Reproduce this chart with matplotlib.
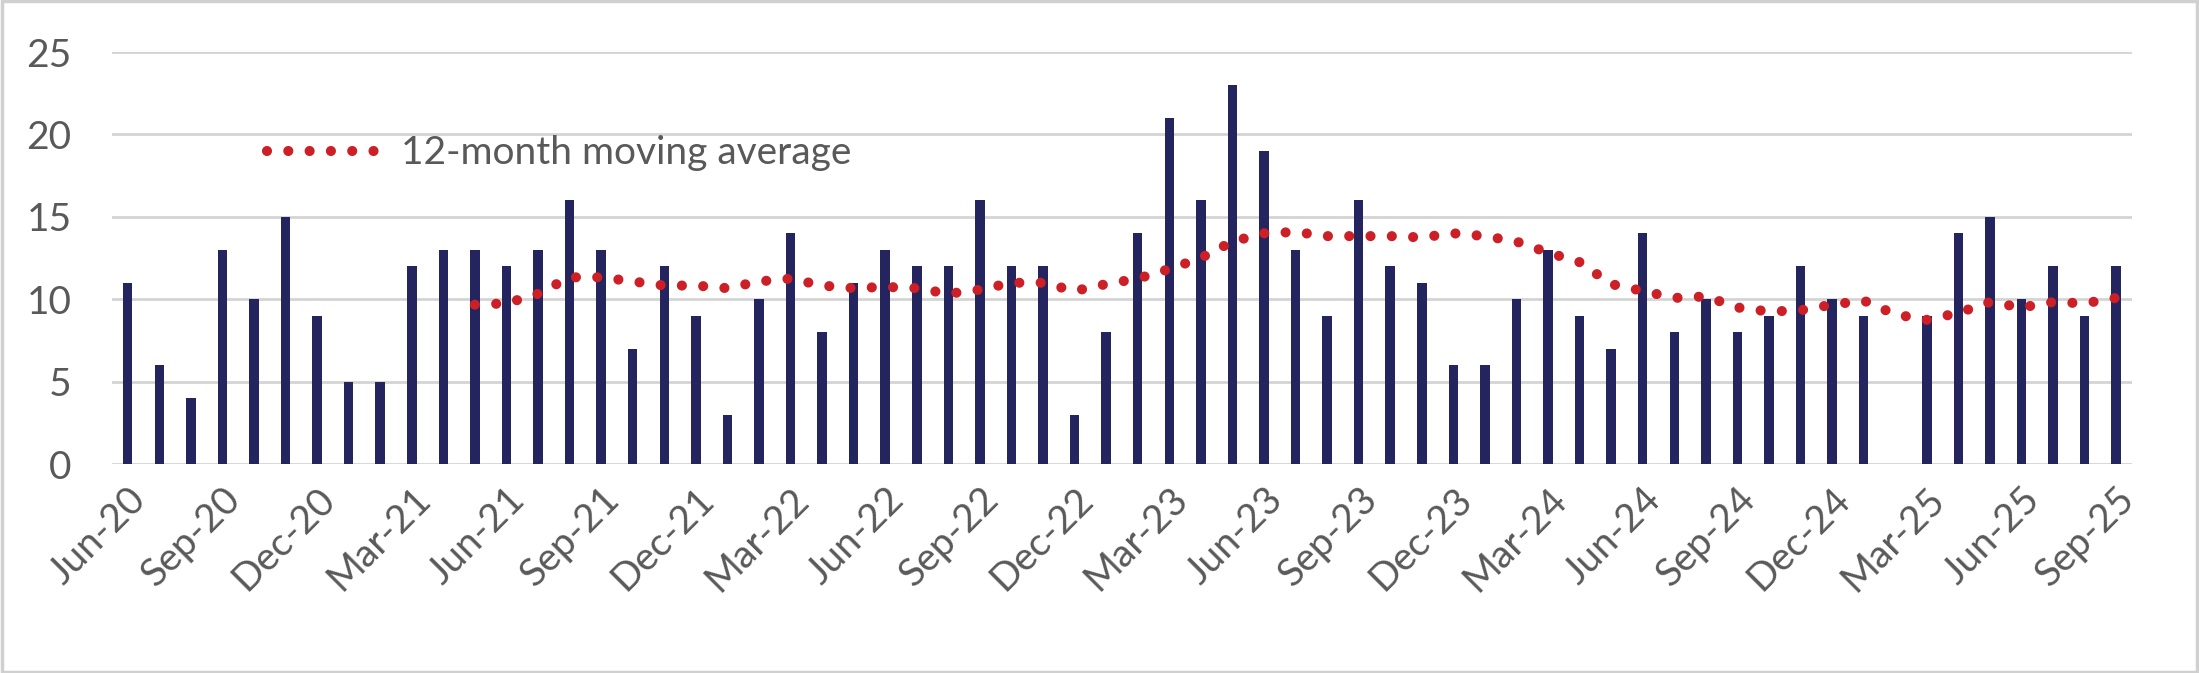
import numpy as np
import matplotlib
matplotlib.use("Agg")
import matplotlib.pyplot as plt
from matplotlib.lines import Line2D
from matplotlib.patches import Rectangle

# monthly counts, Jun-20 .. Sep-25 (Feb-25 has no bar)
counts = [11, 6, 4, 13, 10, 15, 9,
          5, 5, 12, 13, 13, 12, 13, 16, 13, 7, 12, 9,
          3, 10, 14, 8, 11, 13, 12, 12, 16, 12, 12, 3,
          8, 14, 21, 16, 23, 19, 13, 9, 16, 12, 11, 6,
          6, 10, 13, 9, 7, 14, 8, 10, 8, 9, 12, 10,
          9, 0, 9, 14, 15, 10, 12, 9, 12]

# 12-month moving average, first value at May-21
ma_start = 11
moving_avg = [9.67, 9.75, 10.33, 11.33, 11.33, 11.08, 10.83, 10.83, 10.67, 11.08,
              11.25, 10.83, 10.67, 10.75, 10.67, 10.33, 10.58, 11.0, 11.0, 10.5,
              10.92, 11.25, 11.83, 12.5, 13.5, 14.0, 14.08, 13.83, 13.83, 13.83,
              13.75, 14.0, 13.83, 13.5, 12.83, 12.25, 10.92, 10.5, 10.08, 10.17,
              9.5, 9.25, 9.33, 9.67, 9.92, 9.08, 8.75, 9.17, 9.83, 9.5,
              9.83, 9.75, 10.08]

tick_labels = ['Jun-20', 'Sep-20', 'Dec-20', 'Mar-21', 'Jun-21', 'Sep-21', 'Dec-21',
               'Mar-22', 'Jun-22', 'Sep-22', 'Dec-22', 'Mar-23', 'Jun-23', 'Sep-23',
               'Dec-23', 'Mar-24', 'Jun-24', 'Sep-24', 'Dec-24', 'Mar-25', 'Jun-25',
               'Sep-25']

plt.rcParams['font.family'] = ['Lato', 'DejaVu Sans']

bar_color = '#24245F'
ma_color = '#CC1F26'
grid_color = '#D4D4D4'
text_color = '#595959'

fig = plt.figure(figsize=(21.99, 6.73), dpi=100)
ax = fig.add_axes([0.0509, 0.3105, 0.9186, 0.6122])

x = np.arange(len(counts))
ax.bar(x, counts, width=0.30, color=bar_color, zorder=2)

x_ma = np.arange(ma_start, ma_start + len(moving_avg))
ma_style = dict(color=ma_color, linewidth=7.3, linestyle=(0, (0.001, 2.1)),
                dash_capstyle='round')
ax.plot(x_ma, moving_avg, zorder=3, **ma_style)

ax.set_xlim(-0.5, len(counts) - 0.5)
ax.set_ylim(0, 25)
ax.set_yticks([0, 5, 10, 15, 20, 25])
ax.set_xticks(x[::3])
ax.set_xticklabels(tick_labels, rotation=45, ha='right', va='top',
                   rotation_mode='anchor')

ax.grid(True, axis='y', color=grid_color, linewidth=2.0, zorder=0)
ax.set_axisbelow(True)
for s in ax.spines.values():
    s.set_visible(False)
ax.tick_params(axis='both', length=0, labelsize=28, labelcolor=text_color)
ax.tick_params(axis='y', pad=29)
ax.tick_params(axis='x', pad=12)

handle = Line2D([], [], **ma_style)
leg = fig.legend([handle], ['12-month moving average'], loc='center left',
                 bbox_to_anchor=(0.1215, 0.772), frameon=False, fontsize=28,
                 handlelength=3.05, handletextpad=0.4, borderpad=0,
                 borderaxespad=0)
for t in leg.get_texts():
    t.set_color(text_color)

# light frame around the chart area
fig.patches.append(Rectangle((0.001, 0.002), 0.998, 0.996, transform=fig.transFigure,
                             fill=False, edgecolor='#D0D0D0', linewidth=2.5))

fig.savefig('out.png', dpi=100, facecolor='white')
